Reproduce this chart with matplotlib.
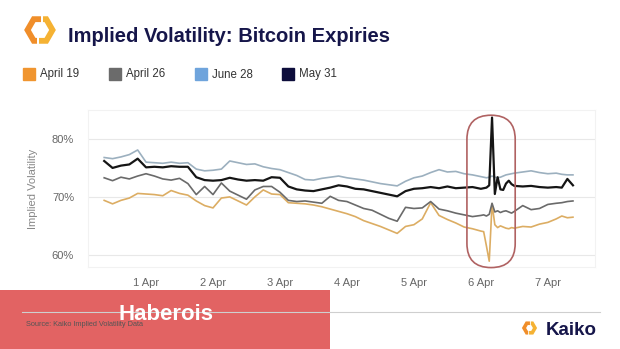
import matplotlib.pyplot as plt
from matplotlib.patches import Rectangle, FancyBboxPatch
import numpy as np

plt.rcParams['font.family'] = ['Liberation Sans', 'DejaVu Sans']

# hours since 1 Apr 00:00
hours = [-15, -12, -9, -6, -3, 0, 3, 6, 9, 12, 15, 18, 21, 24, 27, 30, 33, 36, 39, 42,
         45, 48, 51, 54, 57, 60, 63, 66, 69, 72, 75, 78, 81, 84, 87, 90, 93, 96, 99, 102,
         105, 108, 111, 114, 117, 120, 121, 122, 123, 124, 125, 126, 127, 128, 129, 130,
         131, 132, 135, 138, 141, 144, 147, 149, 151, 153]

april_19 = [69.4, 68.8, 69.4, 69.8, 70.6, 70.5, 70.4, 70.2, 71.1, 70.6, 70.3, 69.3, 68.5, 68.1,
            69.8, 70.0, 69.3, 68.6, 70.0, 71.2, 70.5, 70.4, 69.0, 68.9, 68.8, 68.6, 68.3, 67.9,
            67.5, 67.1, 66.6, 65.9, 65.4, 64.9, 64.3, 63.7, 64.9, 65.2, 66.2, 69.0, 66.8, 66.1,
            65.5, 64.8, 64.5, 64.1,
            64.0, 61.5, 58.9, 68.8, 65.2, 64.7, 65.0, 64.8, 64.6, 64.5, 64.7, 64.6,
            64.9, 64.8, 65.3, 65.6, 66.2, 66.7, 66.4, 66.5]

april_26 = [73.3, 72.8, 73.4, 73.1, 73.6, 74.0, 73.6, 73.1, 72.9, 73.2, 72.3, 70.4, 71.8, 70.4,
            72.4, 71.0, 70.3, 69.6, 71.2, 71.8, 71.8, 70.8, 69.4, 69.2, 69.3, 69.1, 68.9, 70.1,
            69.4, 69.2, 68.6, 68.0, 67.7, 67.0, 66.3, 65.8, 68.2, 68.0, 68.1, 69.2, 67.9, 67.6,
            67.2, 66.9, 66.6, 66.8,
            66.9, 66.7, 67.0, 68.9, 67.4, 67.6, 67.3, 67.5, 67.6, 67.4, 67.2, 67.5,
            68.5, 67.8, 68.0, 68.7, 68.9, 69.0, 69.2, 69.3]

june_28 = [76.8, 76.6, 76.9, 77.3, 78.1, 76.0, 75.9, 75.8, 76.0, 75.8, 75.9, 74.8, 74.5, 74.6,
           74.8, 76.2, 75.9, 75.6, 75.7, 75.2, 74.9, 74.7, 74.2, 73.7, 73.0, 72.9, 73.2, 73.4,
           73.6, 73.3, 73.1, 72.9, 72.6, 72.3, 72.1, 71.9, 72.7, 73.3, 73.6, 74.2, 74.7, 74.3,
           74.4, 74.0, 73.8, 73.5,
           73.4, 73.3, 73.4, 73.6, 73.4, 73.3, 73.4, 73.6, 73.8, 73.9, 74.0, 74.1,
           74.3, 74.5, 74.2, 74.0, 74.1, 73.9, 73.8, 73.8]

may_31 = [76.2, 75.0, 75.4, 75.6, 76.6, 75.1, 75.2, 75.1, 75.3, 75.2, 75.2, 73.4, 72.9, 72.8,
          72.9, 73.3, 73.0, 72.8, 72.9, 72.8, 73.4, 73.3, 71.8, 71.3, 71.1, 71.0, 71.3, 71.6,
          72.0, 71.8, 71.4, 71.3, 71.0, 70.7, 70.4, 70.1, 71.0, 71.4, 71.5, 71.7, 71.5, 71.8,
          71.5, 71.6, 71.7, 71.4,
          71.5, 71.6, 72.0, 83.7, 70.5, 73.4, 71.3, 71.2, 72.3, 72.8, 72.2, 71.9,
          71.8, 71.9, 71.7, 71.6, 71.7, 71.6, 73.1, 72.0]

series_names = ['April 19', 'April 26', 'June 28', 'May 31']
legend_colors = ['#f0952f', '#6b6b6b', '#6fa4dc', '#0d0d3b']
line_colors = ['#dcad63', '#6a6a6a', '#9cb0bf', '#151515']
line_widths = [1.2, 1.2, 1.2, 1.6]

day_ticks = [0, 24, 48, 72, 96, 120, 144]
day_labels = ['1 Apr', '2 Apr', '3 Apr', '4 Apr', '5 Apr', '6 Apr', '7 Apr']
y_ticks = [60, 70, 80]
y_labels = ['60%', '70%', '80%']

W, H = 620, 349
fig = plt.figure(figsize=(W / 100, H / 100), dpi=100)
ax = fig.add_axes([88 / W, 82 / H, 507 / W, 157 / H])

all_series = [april_19, april_26, june_28, may_31]
for i in [2, 0, 1, 3]:
    ax.plot(hours, all_series[i], color=line_colors[i], lw=line_widths[i], zorder=3)

ax.set_xlim(-20.8, 160.9)
ax.set_ylim(57.9, 85.0)
ax.set_xticks(day_ticks)
ax.set_xticklabels(day_labels)
ax.set_yticks(y_ticks)
ax.set_yticklabels(y_labels)
ax.tick_params(axis='both', length=0, labelsize=8, labelcolor='#666666')
ax.tick_params(axis='y', pad=10)
ax.tick_params(axis='x', pad=8)
ax.grid(axis='y', color='#e8e8e8', lw=0.8)
ax.set_axisbelow(True)
for s in ax.spines.values():
    s.set_color('#f2f2f2')
    s.set_linewidth(0.8)
ax.set_ylabel('Implied Volatility', fontsize=8, color='#888888')
ax.yaxis.set_label_coords(-0.0986, 0.5)

# highlight around the spike on 6 Apr
p0 = ax.transData.transform((0, 0))
p1 = ax.transData.transform((1, 1))
aspect = (p1[0] - p0[0]) / (p1[1] - p0[1])
x0, x1 = 115.0, 132.3
y0, y1 = 57.8, 84.1
stadium = FancyBboxPatch((x0, y0), x1 - x0, y1 - y0,
                         boxstyle="round,pad=0,rounding_size=%.2f" % ((x1 - x0) / 2),
                         mutation_aspect=aspect, fill=False, ec='#b06262', lw=1.2,
                         clip_on=False, zorder=4)
ax.add_patch(stadium)

# decorations in pixel coordinates
deco = fig.add_axes([0, 0, 1, 1], zorder=5)
deco.set_xlim(0, W)
deco.set_ylim(H, 0)
deco.axis('off')
deco.patch.set_alpha(0)


def hex_logo(cx, cy, r, lw):
    ang = np.radians([0, 60, 120, 180, 240, 300])
    vx = cx + r * np.cos(ang)
    vy = cy - r * np.sin(ang)
    g = r * 0.08
    # two halves of a hexagon ring, small gaps at top and bottom
    deco.plot([cx + g, vx[2], vx[3], vx[4], cx - 3 * g], [vy[2], vy[2], vy[3], vy[4], vy[4]],
              color='#f08e2a', lw=lw, solid_capstyle='butt', solid_joinstyle='miter')
    deco.plot([cx + 3 * g, vx[1], vx[0], vx[5], cx - g], [vy[1], vy[1], vy[0], vy[5], vy[5]],
              color='#f5b233', lw=lw, solid_capstyle='butt', solid_joinstyle='miter')


hex_logo(40, 30, 12.5, 4.2)
deco.text(68, 42, 'Implied Volatility: Bitcoin Expiries', fontsize=14.5, fontweight='bold',
          color='#16164a', va='baseline', ha='left')

sq_x = [22.7, 109, 195, 282]
for i, name in enumerate(series_names):
    deco.add_patch(Rectangle((sq_x[i], 68), 12, 12, color=legend_colors[i]))
    deco.text(sq_x[i] + 17, 74.5, name, fontsize=8.3, color='#333333', va='center', ha='left')

# footer
deco.plot([22, 600], [312, 312], color='#cfcfcf', lw=0.8)
deco.text(26, 324.5, 'Source: Kaiko Implied Volatility Data', fontsize=5.3, color='#555555',
          va='center', ha='left')
hex_logo(529.5, 328, 5.5, 2.6)
deco.text(546, 335, 'Kaiko', fontsize=13.5, fontweight='bold', color='#16164a',
          va='baseline', ha='left')

deco.add_patch(Rectangle((0, 290), 330, 59, color='#e05757', alpha=0.93, lw=0))
deco.text(166, 315, 'Haberois', fontsize=16, fontweight='bold', color='white',
          va='center', ha='center')

fig.savefig('out.png', dpi=100)
